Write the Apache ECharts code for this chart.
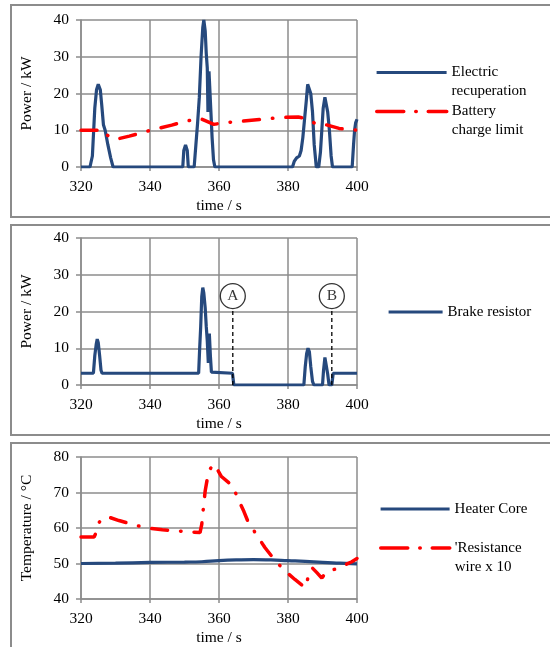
<!DOCTYPE html>
<html>
<head>
<meta charset="utf-8">
<script src="https://cdn.jsdelivr.net/npm/echarts@6/dist/echarts.min.js"></script>
<style>
html,body{margin:0;padding:0;background:#fff;}
#c{width:550px;height:647px;}
</style>
</head>
<body>
<div id="c"></div>
<script>
// ---------- DATA ----------
const xTicksMin = 320, xTicksMax = 400, xInterval = 20;

// Panel 1: Electric recuperation (kW)
const recupT = [320,322.6,323.3,324,324.5,325,325.6,326,326.5,327,327.8,328.6,329.3,349.5,349.8,350.3,350.8,351.1,352.8,353.3,353.8,354.3,354.8,355.3,355.6,356,356.3,356.6,356.8,357.1,357.3,357.6,358,358.4,358.8,381.3,381.8,382.5,383.3,383.8,384.3,384.8,385.3,385.7,386.1,386.6,387.1,387.6,388.2,388.9,389.4,389.8,390.2,390.7,391.1,391.5,392,392.5,392.9,398.6,399,399.3,399.6,400];
const recupV = [0,0,3,16,21,22.5,21,17,11.5,10,6,2.5,0,0,4.5,6,4.5,0,0,6,12,19,30,38,40,37,31,27,15,26,22,16,8,2,0,0,1.5,2.5,3,4.5,8,13,18,22.5,23,20,15,6,0,0,4,10,16,19,18.5,15,10,3,0,0,6,10,12,13];

// Panel 1: Battery charge limit (kW)
const battT = [320,326.5,327,327.5,330,334,341,346.3,350.6,354.5,356,358.5,362,367,375,379,383,385,386.5,388,390,391,394.8,400];
const battV = [10,10,9.6,8.7,7.5,8.4,10.2,11.4,12.5,13.2,12.6,11.6,12.1,12.5,13.2,13.5,13.6,13.2,12.5,11.8,11.9,11.5,10.5,10];

// Panel 2: Brake resistor (kW)
const brakeT = [320,323.6,324,324.4,324.7,325,325.4,325.8,326.1,354.1,354.4,354.7,355,355.3,355.6,356,356.3,356.6,356.9,357.2,357.5,357.8,358.1,363.9,364.3,384.6,385,385.4,385.8,386.2,386.6,387.1,387.5,390,390.3,390.7,391.1,391.5,391.9,392.7,393.1,400];
const brakeV = [3.2,3.2,8,11,12.5,11.5,8,4,3.2,3.2,10,16,24,26.5,25,21,16,12,6,14,8,3.5,3.2,3.2,0,0,5,8.5,10,9,5,1,0,0,4,7.5,7,3,0,0,3.2,3.2];

// Panel 2: annotations A, B
const annoLabels = ['A','B'];
const annoT = [364, 392.7];
const annoCircleV = 24.2;
const annoLineTopV = 20.8;

// Panel 3: Heater Core (°C)
const heatT = [320,330,340,350,355,360,365,370,375,380,385,390,395,400];
const heatV = [50,50.1,50.3,50.4,50.5,50.8,51.0,51.1,51.0,50.8,50.6,50.3,50.1,49.9];

// Panel 3: Resistance wire x 10
const resT = [320,323.8,324.3,324.8,326,327.6,331,335,339,343.6,347.7,354.5,355,355.3,356,357,358.4,359.5,360.7,364,365.5,367.2,368.4,373.3,375.8,378.8,382,385,385.8,386.2,387,388.3,389.8,391,393.6,396.7,398.5,400];
const resV = [57.5,57.5,58.5,61,62.5,63.2,62.1,61,60,59.5,59.2,58.7,61,64,70.5,76,78,76.5,74.5,71.8,68.2,64.7,61.8,54.5,51.4,48.2,45.5,43.2,46,47.3,48.8,47.5,45.9,47.5,48.4,49.7,50.5,51.4];

// ---------- CHART ----------
const zip = (a,b) => a.map((t,i)=>[t,b[i]]);
const FONT = 'Liberation Serif';
const GRAY = '#8c8c8c';
const BLUE = '#26497d';
const RED = '#ff0000';
const DASHDOT = [16,13,0.5,13];

const grids = [
  {left:81, top:20, width:276, height:147},
  {left:81, top:238, width:276, height:147},
  {left:81, top:457, width:276, height:146}
];

function xAxis(i){
  return {
    type:'value', gridIndex:i, min:xTicksMin, max:xTicksMax, interval:xInterval,
    name:'time / s', nameLocation:'middle', nameGap:31,
    nameTextStyle:{fontFamily:FONT, fontSize:15.5, color:'#000'},
    axisLine:{show:true, onZero:false, lineStyle:{color:GRAY, width:1.5}},
    axisTick:{show:true, length:4, lineStyle:{color:GRAY, width:1.5}},
    axisLabel:{fontFamily:FONT, fontSize:15.5, color:'#000', margin:12},
    splitLine:{show:true, lineStyle:{color:GRAY, width:1.5}}
  };
}
function yAxis(i, min, max, name){
  return {
    type:'value', gridIndex:i, min:min, max:max, interval:10,
    name:name, nameLocation:'middle', nameGap:46, nameRotate:90,
    nameTextStyle:{fontFamily:FONT, fontSize:15.5, color:'#000'},
    axisLine:{show:true, onZero:false, lineStyle:{color:GRAY, width:1.5}},
    axisTick:{show:true, length:5, lineStyle:{color:GRAY, width:1.5}},
    axisLabel:{fontFamily:FONT, fontSize:15.5, color:'#000', margin:12},
    splitLine:{show:true, lineStyle:{color:GRAY, width:1.5}}
  };
}

const series = [
  {name:'Electric recuperation', type:'line', xAxisIndex:0, yAxisIndex:0, data:zip(recupT,recupV), showSymbol:false, symbol:'none',
   lineStyle:{color:BLUE, width:3.2}, itemStyle:{color:BLUE}, z:3},
  {name:'Battery charge limit', type:'line', xAxisIndex:0, yAxisIndex:0, data:zip(battT,battV), showSymbol:false, symbol:'none',
   lineStyle:{color:RED, width:3.5, type:DASHDOT, cap:'round'}, itemStyle:{color:RED}, z:4},
  {name:'Brake resistor', type:'line', xAxisIndex:1, yAxisIndex:1, data:zip(brakeT,brakeV), showSymbol:false, symbol:'none',
   lineStyle:{color:BLUE, width:3.2}, itemStyle:{color:BLUE}, z:3},
  {name:'Heater Core', type:'line', xAxisIndex:2, yAxisIndex:2, data:zip(heatT,heatV), showSymbol:false, symbol:'none', smooth:true,
   lineStyle:{color:BLUE, width:3.2}, itemStyle:{color:BLUE}, z:3},
  {name:"'Resistance wire x 10", type:'line', xAxisIndex:2, yAxisIndex:2, data:zip(resT,resV), showSymbol:false, symbol:'none',
   lineStyle:{color:RED, width:3.5, type:DASHDOT, cap:'round'}, itemStyle:{color:RED}, z:4}
];

annoT.forEach((t,i)=>{
  series.push({
    name:'anno-line-'+i, type:'line', xAxisIndex:1, yAxisIndex:1,
    data:[[t,0],[t,annoLineTopV]], showSymbol:false, symbol:'none',
    lineStyle:{color:'#000', width:1.3, type:[4,3]}, z:5, silent:true
  });
  series.push({
    name:'anno-pt-'+i, type:'scatter', xAxisIndex:1, yAxisIndex:1,
    data:[[t,annoCircleV]], symbol:'circle', symbolSize:25,
    itemStyle:{color:'#fff', borderColor:'#000', borderWidth:1.3},
    label:{show:true, position:'inside', formatter:annoLabels[i], fontFamily:FONT, fontSize:15.5, color:'#000'},
    z:6, silent:true
  });
});

const legendText = {
  'Electric recuperation':'\nElectric\nrecuperation',
  'Battery charge limit':'\nBattery\ncharge limit',
  "'Resistance wire x 10":"\n'Resistance\nwire x 10"
};

function legend(name, left, top, itemWidth, dashed){
  const l = {
    data:[name], left:left, top:top, orient:'vertical', padding:0,
    itemWidth:itemWidth, itemHeight:14, itemGap:0, selectedMode:false,
    itemStyle:{opacity:0, borderWidth:0},
    formatter: n => legendText[n] || n,
    textStyle:{fontFamily:FONT, fontSize:15, color:'#000', lineHeight:19}
  };
  l.lineStyle = dashed ? {type:[27,12,0.5,12], cap:'round', width:3.5, color:RED}
                       : {width:3.2, color:BLUE};
  return l;
}

const option = {
  animation:false,
  backgroundColor:'#fff',
  grid:grids,
  xAxis:[xAxis(0),xAxis(1),xAxis(2)],
  yAxis:[yAxis(0,0,40,'Power / kW'), yAxis(1,0,40,'Power / kW'), yAxis(2,40,80,'Temperature / °C')],
  legend:[
    legend('Electric recuperation', 375, 44, 70, false),
    legend('Battery charge limit', 375, 83, 70, true),
    legend('Brake resistor', 387, 302.5, 54, false),
    legend('Heater Core', 379, 499.5, 69, false),
    legend("'Resistance wire x 10", 379, 519.5, 69, true)
  ],
  graphic:[
    {type:'rect', shape:{x:11, y:5, width:560, height:212}, style:{fill:'none', stroke:GRAY, lineWidth:2}, silent:true},
    {type:'rect', shape:{x:11, y:225, width:560, height:210}, style:{fill:'none', stroke:GRAY, lineWidth:2}, silent:true},
    {type:'rect', shape:{x:11, y:443, width:560, height:230}, style:{fill:'none', stroke:GRAY, lineWidth:2}, silent:true}
  ],
  series:series
};

const chart = echarts.init(document.getElementById('c'), null, {renderer:'canvas'});
chart.setOption(option);
</script>
</body>
</html>
